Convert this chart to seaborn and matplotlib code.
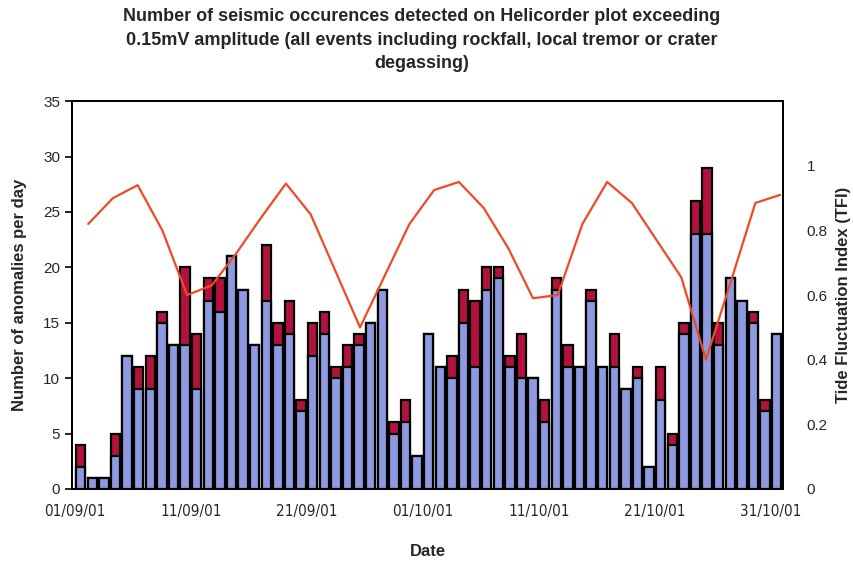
import matplotlib
matplotlib.use("Agg")
import matplotlib.pyplot as plt
import seaborn as sns
import pandas as pd

# ---------------- data ----------------
day_index = list(range(61))  # 01/09/01 .. 31/10/01
blue_counts = [2, 1, 1, 3, 12, 9, 9, 15, 13, 13,
               9, 17, 16, 21, 18, 13, 17, 13, 14, 7,
               12, 14, 10, 11, 13, 15, 18, 5, 6, 3,
               14, 11, 10, 15, 11, 18, 19, 11, 10, 10,
               6, 18, 11, 11, 17, 11, 11, 9, 10, 2,
               8, 4, 14, 23, 23, 13, 19, 17, 15, 7, 14]
red_counts = [2, 0, 0, 2, 0, 2, 3, 1, 0, 7,
              5, 2, 3, 0, 0, 0, 5, 2, 3, 1,
              3, 2, 1, 2, 1, 0, 0, 1, 2, 0,
              0, 0, 2, 3, 6, 2, 1, 1, 4, 0,
              2, 1, 2, 0, 1, 0, 3, 0, 1, 0,
              3, 1, 1, 3, 6, 2, 0, 0, 1, 1, 0]
tfi_day = [1.15, 3.28, 5.41, 7.54, 9.67, 11.80, 13.93, 16.06, 18.19, 20.32,
           22.45, 24.58, 26.71, 28.84, 30.97, 33.10, 35.23, 37.36, 39.49, 41.62,
           43.75, 45.88, 48.01, 50.14, 52.27, 54.40, 56.53, 58.66, 60.79]
tfi_values = [0.82, 0.90, 0.94, 0.80, 0.60, 0.63, 0.73, 0.84, 0.945, 0.85,
              0.675, 0.50, 0.66, 0.82, 0.925, 0.95, 0.87, 0.745, 0.59, 0.60,
              0.82, 0.95, 0.885, 0.77, 0.655, 0.40, 0.64, 0.885, 0.91]
tick_days = [0, 10, 20, 30, 40, 50, 60]
tick_labels = ["01/09/01", "11/09/01", "21/09/01", "01/10/01",
               "11/10/01", "21/10/01", "31/10/01"]
left_ticks = [0, 5, 10, 15, 20, 25, 30, 35]
right_ticks = [0, 0.2, 0.4, 0.6, 0.8, 1.0]
right_labels = ["0", "0.2", "0.4", "0.6", "0.8", "1"]

df = pd.DataFrame({
    "pos": [d + 0.5 for d in day_index],
    "blue": blue_counts,
    "total": [b + r for b, r in zip(blue_counts, red_counts)],
})
tide = pd.DataFrame({"day": tfi_day, "tfi": tfi_values})

# ---------------- style ----------------
sns.set_style("white")
plt.rcParams["font.family"] = ["Liberation Sans", "DejaVu Sans"]
narrow = ["DejaVu Sans"]

BLUE = "#8e9ae0"
RED = "#b3123c"
ORANGE = "#ee4a26"

fig = plt.figure(figsize=(8.54, 5.62), dpi=100)
ax = fig.add_axes([0.0843, 0.130, 0.8327, 0.690])

sns.barplot(data=df, x="pos", y="total", native_scale=True, ax=ax,
            color=RED, saturation=1, width=0.82, edgecolor="black",
            linewidth=1.6, errorbar=None)
sns.barplot(data=df, x="pos", y="blue", native_scale=True, ax=ax,
            color=BLUE, saturation=1, width=0.82, edgecolor="black",
            linewidth=1.6, errorbar=None)

ax.set_xlim(-0.25, 61.05)
ax.set_ylim(0, 35)
ax.set_yticks(left_ticks)
ax.set_yticklabels([str(t) for t in left_ticks], fontsize=11)
ax.set_xticks(tick_days)
ax.set_xticklabels(tick_labels, fontsize=11, family=narrow, stretch="condensed")
ax.tick_params(axis="both", direction="out", length=5, width=1.2, color="black")
ax.tick_params(axis="x", pad=6)
ax.set_xlabel("Date", fontsize=12, fontweight="bold", labelpad=18)
ax.set_ylabel("Number of anomalies per day", fontsize=12, fontweight="bold", labelpad=12)
for s in ax.spines.values():
    s.set_color("black")
    s.set_linewidth(1.3)

ax2 = ax.twinx()
sns.lineplot(data=tide, x="day", y="tfi", ax=ax2, color=ORANGE, linewidth=1.6)
ax2.set_ylim(0, 1.2)
ax2.set_yticks(right_ticks)
ax2.set_yticklabels(right_labels, fontsize=11)
ax2.tick_params(axis="y", direction="out", length=0, pad=17)
ax2.set_ylabel("Tide Fluctuation Index (TFI)", fontsize=12, fontweight="bold", labelpad=6)
ax2.set_xlim(-0.25, 61.05)
for s in ax2.spines.values():
    s.set_color("black")
    s.set_linewidth(1.3)

fig.text(0.494, 0.985,
         "Number of seismic occurences detected on Helicorder plot exceeding\n"
         "0.15mV amplitude (all events including rockfall, local tremor or crater\n"
         "degassing)",
         ha="center", va="top", fontsize=13, fontweight="bold",
         linespacing=1.5)

fig.savefig("out.png", dpi=100)
